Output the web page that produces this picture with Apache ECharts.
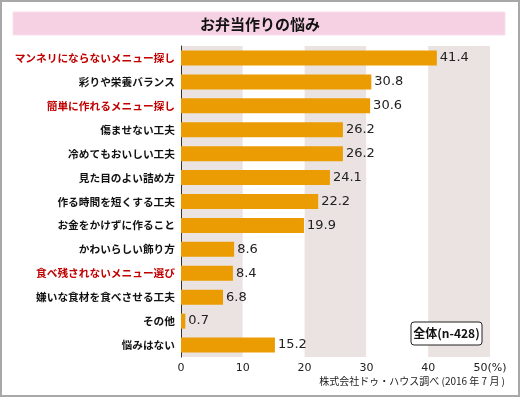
<!DOCTYPE html>
<html><head><meta charset="utf-8">
<script src="https://cdn.jsdelivr.net/npm/echarts@6/dist/echarts.min.js"></script>
<style>html,body{margin:0;padding:0;background:#fff}#c{width:520px;height:397px}</style>
</head><body><div id="c"></div>
<script>
const categories = ['マンネリにならないメニュー探し','彩りや栄養バランス','簡単に作れるメニュー探し','傷ませない工夫','冷めてもおいしい工夫','見た目のよい詰め方','作る時間を短くする工夫','お金をかけずに作ること','かわいらしい飾り方','食べ残されないメニュー選び','嫌いな食材を食べさせる工夫','その他','悩みはない'];
const values = [41.4,30.8,30.6,26.2,26.2,24.1,22.2,19.9,8.6,8.4,6.8,0.7,15.2];
const redCategories = ['マンネリにならないメニュー探し','簡単に作れるメニュー探し','食べ残されないメニュー選び'];
const xTicks = [0,10,20,30,40,50];
const titleText = 'お弁当作りの悩み';
const noteText = '全体(n-428)';
const sourceText = '株式会社ドゥ・ハウス調べ (2016 年 7 月 )';

const jp = '"Noto Sans CJK JP", sans-serif';
const chart = echarts.init(document.getElementById('c'), null, {renderer:'canvas'});
chart.setOption({
  animation:false,
  backgroundColor:'#fff',
  grid:{left:181, right:30, top:46, bottom:40},
  xAxis:{type:'value', min:0, max:50, interval:10,
    axisLine:{show:false}, axisTick:{show:false},
    splitLine:{show:false},
    splitArea:{show:true, areaStyle:{color:['#ebe3e2','#ffffff']}},
    axisLabel:{color:'#222', fontSize:11, fontFamily:'"DejaVu Sans", sans-serif', margin:6,
      formatter:v=> v===50 ? '50(%)' : String(v)}},
  yAxis:{type:'category', data:categories, inverse:true,
    axisLine:{show:true, lineStyle:{color:'#333', width:1}}, axisTick:{show:false},
    axisLabel:{margin:6, fontSize:10.7, fontWeight:'bold', fontFamily:jp, color:'#111',
      formatter:v=> redCategories.includes(v) ? '{r|'+v+'}' : v,
      rich:{r:{color:'#c00000', fontSize:10.7, fontWeight:'bold', fontFamily:jp}}}},
  series:[{type:'bar', data:values, barWidth:15,
    itemStyle:{color:'#ec9c03'},
    label:{show:true, position:'right', distance:3, color:'#222', fontSize:13,
      fontFamily:'"DejaVu Sans", sans-serif'}}],
  graphic:[
    {type:'rect', shape:{x:1, y:1, width:518, height:395}, style:{fill:'none', stroke:'#a8a8a8', lineWidth:2}, z:100},
    {type:'rect', shape:{x:13, y:12, width:492, height:23}, style:{fill:'#f6d0e3', stroke:'#f9e0ec', lineWidth:1}},
    {type:'text', x:260, y:24, style:{text:titleText, fill:'#111', font:'bold 15px '+jp, align:'center', verticalAlign:'middle'}},
    {type:'rect', shape:{x:411, y:322, width:71, height:23, r:3}, style:{fill:'#fff', stroke:'#222', lineWidth:1}, z:50},
    {type:'text', x:446.5, y:333.5, style:{text:noteText, fill:'#111', font:'bold 12px '+jp, align:'center', verticalAlign:'middle'}, z:51},
    {type:'text', x:505, y:381, style:{text:sourceText, fill:'#222', font:'10px '+jp, align:'right', verticalAlign:'middle'}}
  ]
});
</script></body></html>
